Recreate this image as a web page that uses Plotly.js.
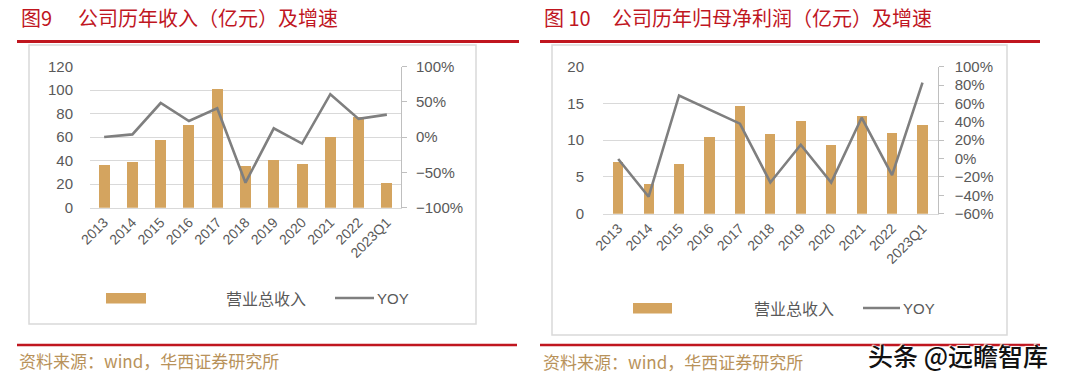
<!DOCTYPE html>
<html>
<head>
<meta charset="utf-8">
<script src="https://cdn.plot.ly/plotly-3.0.1.min.js"></script>
<style>
html,body{margin:0;padding:0;background:#fff;}
#chart{width:1080px;height:382px;}
</style>
</head>
<body>
<div id="chart"></div>
<script>
// ---- data ----
const years = ['2013','2014','2015','2016','2017','2018','2019','2020','2021','2022','2023Q1'];
const revenue = [36.3, 38.9, 57.3, 70.4, 101.0, 35.7, 40.6, 37.2, 60.4, 76.9, 21.3];
const revenueYoY = [0.2, 4, 48.5, 23, 41, -64.5, 12.5, -9, 61, 26, 32];
const profit = [7.0, 4.0, 6.8, 10.5, 14.6, 10.8, 12.6, 9.3, 13.3, 11.0, 12.1];
const profitYoY = [-0.5, -41.5, 68.7, 53.5, 38, -26, 15, -26, 44.5, -18, 82.6];
const leftTitleNo = '图9';
const leftTitle = '公司历年收入（亿元）及增速';
const rightTitleNo = '图 10';
const rightTitle = '公司历年归母净利润（亿元）及增速';
const barName = '营业总收入';
const lineName = 'YOY';
const sourceText = '资料来源：wind，华西证券研究所';
const watermark = '头条 @远瞻智库';

// ---- helpers ----
const W = 1080, H = 382;
const px = x => x / W;
const py = y => 1 - y / H;

const BAR = '#D4A45F';
const LINE = '#7F7F7F';
const RED = '#C0161F';
const TICK = '#595959';
const GRID = '#D9D9D9';
const CJK = '"Noto Sans CJK SC", "Noto Sans", sans-serif';
const LAT = '"Liberation Sans", Arial, sans-serif';

const traces = [
  {type:'bar', x:years, y:revenue, xaxis:'x', yaxis:'y', marker:{color:BAR}, width:0.39, name:barName, showlegend:false, hoverinfo:'skip'},
  {type:'scatter', mode:'lines', x:years, y:revenueYoY, xaxis:'x', yaxis:'y2', line:{color:LINE, width:2.6}, name:lineName, showlegend:false, hoverinfo:'skip'},
  {type:'bar', x:years, y:profit, xaxis:'x2', yaxis:'y3', marker:{color:BAR}, width:0.33, name:barName, showlegend:false, hoverinfo:'skip'},
  {type:'scatter', mode:'lines', x:years, y:profitYoY, xaxis:'x2', yaxis:'y4', line:{color:LINE, width:2.6}, name:lineName, showlegend:false, hoverinfo:'skip'}
];

const tickFont = {family: LAT, size: 15, color: TICK};
const xTickFont = {family: LAT, size: 14, color: TICK};

function xAxis(domain, anchor){
  return {domain, anchor, type:'category', range:[-0.5, 10.5], tickangle:-45,
    showline:true, linecolor:GRID, linewidth:1, showgrid:false, zeroline:false,
    ticks:'', tickfont:xTickFont, fixedrange:true};
}

const layout = {
  width: W, height: H,
  margin: {l:0, r:0, t:0, b:0},
  paper_bgcolor: '#fff', plot_bgcolor: 'rgba(0,0,0,0)',
  showlegend: false,
  bargap: 0,
  xaxis: xAxis([px(90), px(401)], 'y'),
  yaxis: {domain:[py(207.7), py(66.7)], anchor:'x', range:[0,120], dtick:20, tick0:0,
    showgrid:true, gridcolor:GRID, gridwidth:1, zeroline:false, showline:false,
    ticks:'', ticklabelstandoff:16, tickfont:tickFont, fixedrange:true},
  yaxis2: {overlaying:'y', anchor:'x', side:'right', range:[-100,100], dtick:50, tick0:0,
    ticksuffix:'%', showgrid:false, zeroline:false, showline:true, linecolor:'#BFBFBF', linewidth:1,
    ticks:'outside', ticklen:5, tickcolor:'#BFBFBF', ticklabelstandoff:6, tickfont:tickFont, fixedrange:true},
  xaxis2: xAxis([px(603), px(937.7)], 'y3'),
  yaxis3: {domain:[py(213.7), py(66.7)], anchor:'x2', range:[0,20], dtick:5, tick0:0,
    showgrid:true, gridcolor:GRID, gridwidth:1, zeroline:false, showline:false,
    ticks:'', ticklabelstandoff:18, tickfont:tickFont, fixedrange:true},
  yaxis4: {overlaying:'y3', anchor:'x2', side:'right', range:[-60,100], dtick:20, tick0:0,
    ticksuffix:'%', showgrid:false, zeroline:false, showline:true, linecolor:'#BFBFBF', linewidth:1,
    ticks:'outside', ticklen:5, tickcolor:'#BFBFBF', ticklabelstandoff:8, tickfont:tickFont, fixedrange:true},
  shapes: [
    // top red rules
    {type:'line', xref:'paper', yref:'paper', x0:px(17), x1:px(519), y0:py(41.5), y1:py(41.5), line:{color:RED, width:3}},
    {type:'line', xref:'paper', yref:'paper', x0:px(540), x1:px(1040), y0:py(41.5), y1:py(41.5), line:{color:RED, width:3}},
    // bottom red rules
    {type:'line', xref:'paper', yref:'paper', x0:px(17), x1:px(517), y0:py(345), y1:py(345), line:{color:RED, width:2.5}},
    {type:'line', xref:'paper', yref:'paper', x0:px(540), x1:px(1040), y0:py(345), y1:py(345), line:{color:RED, width:2.5}},
    // chart frames
    {type:'rect', xref:'paper', yref:'paper', x0:px(29), x1:px(476), y0:py(324), y1:py(45), line:{color:'#D9D9D9', width:1.5}},
    {type:'rect', xref:'paper', yref:'paper', x0:px(552), x1:px(1007), y0:py(335), y1:py(45), line:{color:'#D9D9D9', width:1.5}},
    // legend swatches
    {type:'rect', xref:'paper', yref:'paper', x0:px(106), x1:px(146), y0:py(303.5), y1:py(293), fillcolor:BAR, line:{width:0}},
    {type:'line', xref:'paper', yref:'paper', x0:px(335), x1:px(374), y0:py(298), y1:py(298), line:{color:LINE, width:2.6}},
    {type:'rect', xref:'paper', yref:'paper', x0:px(633), x1:px(672), y0:py(313.5), y1:py(303), fillcolor:BAR, line:{width:0}},
    {type:'line', xref:'paper', yref:'paper', x0:px(863), x1:px(900), y0:py(308), y1:py(308), line:{color:LINE, width:2.6}}
  ],
  annotations: [
    {xref:'paper', yref:'paper', x:px(19), y:py(17), xanchor:'left', yanchor:'middle', showarrow:false, text:leftTitleNo, font:{family:CJK, size:20, color:RED}},
    {xref:'paper', yref:'paper', x:px(76), y:py(17), xanchor:'left', yanchor:'middle', showarrow:false, text:leftTitle, font:{family:CJK, size:20, color:RED}},
    {xref:'paper', yref:'paper', x:px(542), y:py(17), xanchor:'left', yanchor:'middle', showarrow:false, text:rightTitleNo, font:{family:CJK, size:20, color:RED}},
    {xref:'paper', yref:'paper', x:px(610), y:py(17), xanchor:'left', yanchor:'middle', showarrow:false, text:rightTitle, font:{family:CJK, size:20, color:RED}},
    // legends
    {xref:'paper', yref:'paper', x:px(266), y:py(298), xanchor:'center', yanchor:'middle', showarrow:false, text:barName, font:{family:CJK, size:16, color:TICK}},
    {xref:'paper', yref:'paper', x:px(375), y:py(298), xanchor:'left', yanchor:'middle', showarrow:false, text:lineName, font:{family:LAT, size:15, color:TICK}},
    {xref:'paper', yref:'paper', x:px(794), y:py(308), xanchor:'center', yanchor:'middle', showarrow:false, text:barName, font:{family:CJK, size:16, color:TICK}},
    {xref:'paper', yref:'paper', x:px(901), y:py(308), xanchor:'left', yanchor:'middle', showarrow:false, text:lineName, font:{family:LAT, size:15, color:TICK}},
    // sources
    {xref:'paper', yref:'paper', x:px(17), y:py(360), xanchor:'left', yanchor:'middle', showarrow:false, text:sourceText, font:{family:CJK, size:17, color:'#B8925A'}},
    {xref:'paper', yref:'paper', x:px(541), y:py(361), xanchor:'left', yanchor:'middle', showarrow:false, text:sourceText, font:{family:CJK, size:17, color:'#B8925A'}},
    // watermark
    {xref:'paper', yref:'paper', x:px(866), y:py(355), xanchor:'left', yanchor:'middle', showarrow:false, text:watermark, font:{family:CJK, size:25, weight:500, color:'#111', shadow:'1px 1px 1px #fff, -1px -1px 1px #fff'}}
  ]
};

Plotly.newPlot('chart', traces, layout, {displayModeBar:false, staticPlot:true});
</script>
</body>
</html>
